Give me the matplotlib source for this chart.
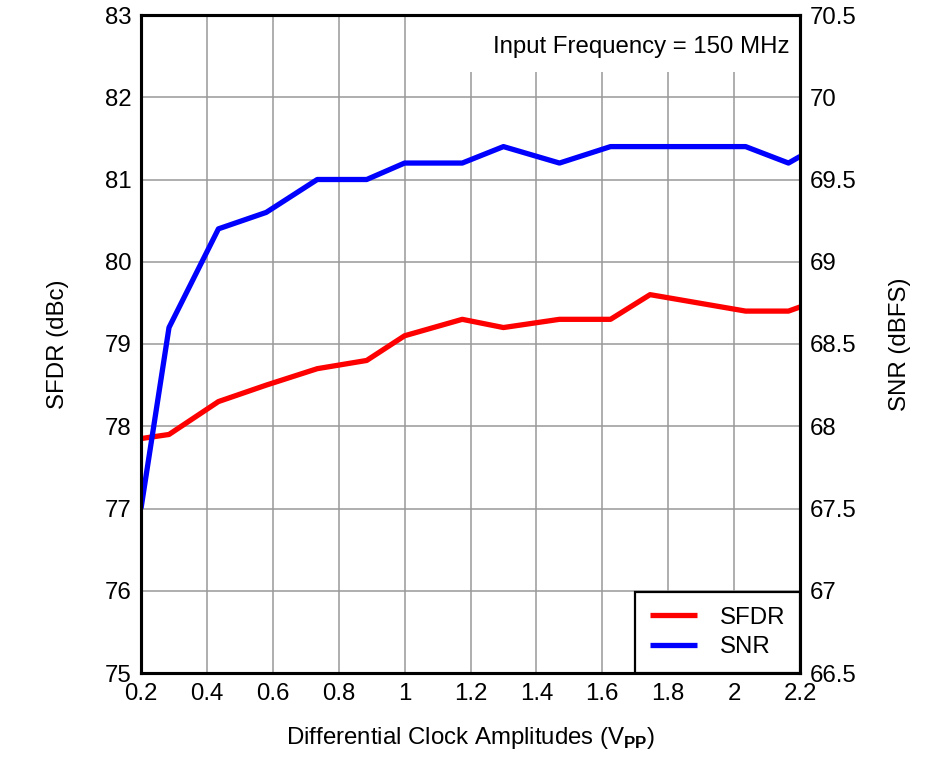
import matplotlib
matplotlib.use("Agg")
import matplotlib.pyplot as plt
from matplotlib.patches import Rectangle
from matplotlib.ticker import FuncFormatter

plt.rcParams['font.family'] = ['Liberation Sans', 'DejaVu Sans']
plt.rcParams['mathtext.fontset'] = 'custom'
plt.rcParams['mathtext.rm'] = 'Liberation Sans'
plt.rcParams['mathtext.bf'] = 'Liberation Sans:bold'

# Data
amplitude = [0.2, 0.285, 0.435, 0.58, 0.735, 0.885, 1.0, 1.175, 1.3, 1.47, 1.625, 1.745, 2.035, 2.165, 2.2]
sfdr = [77.85, 77.9, 78.3, 78.5, 78.7, 78.8, 79.1, 79.3, 79.2, 79.3, 79.3, 79.6, 79.4, 79.4, 79.45]
snr = [67.5, 68.6, 69.2, 69.3, 69.5, 69.5, 69.6, 69.6, 69.7, 69.6, 69.7, 69.7, 69.7, 69.6, 69.64]
x_ticks = [0.2, 0.4, 0.6, 0.8, 1.0, 1.2, 1.4, 1.6, 1.8, 2.0, 2.2]
left_ticks = [75, 76, 77, 78, 79, 80, 81, 82, 83]
right_ticks = [66.5, 67, 67.5, 68, 68.5, 69, 69.5, 70, 70.5]

fig = plt.figure(figsize=(9.39, 7.64), dpi=100)
ax = fig.add_axes([141/939, 1-673/764, 659/939, 658/764])
ax2 = ax.twinx()

fs = 17.3
fmt = FuncFormatter(lambda v, p: f"{v:g}")

ax.set_xlim(0.2, 2.2)
ax.set_ylim(75, 83)
ax2.set_ylim(66.5, 70.5)
ax.set_xticks(x_ticks)
ax.set_yticks(left_ticks)
ax2.set_yticks(right_ticks)
ax.xaxis.set_major_formatter(fmt)
ax.yaxis.set_major_formatter(fmt)
ax2.yaxis.set_major_formatter(fmt)
ax.tick_params(axis='both', length=0, labelsize=fs, pad=7)
ax2.tick_params(axis='y', length=0, labelsize=fs, pad=7)

ax.set_axisbelow(True)
ax.grid(True, color='#999999', linewidth=1.1)

# white annotation background covering grid
ax.add_patch(Rectangle((0.45, 1-57/658), 0.55, 57/658, transform=ax.transAxes,
                       facecolor='white', edgecolor='none', zorder=1))
ax.text(0.985, 0.968, 'Input Frequency = 150 MHz', transform=ax.transAxes,
        ha='right', va='top', fontsize=fs, zorder=3)

l1, = ax.plot(amplitude, sfdr, color='#ff0000', linewidth=3.8, zorder=2, label='SFDR',
              solid_capstyle='butt')
l2, = ax2.plot(amplitude, snr, color='#0000ff', linewidth=3.8, zorder=2, label='SNR',
               solid_capstyle='butt')

for a in (ax, ax2):
    for s in a.spines.values():
        s.set_linewidth(2.2)
        s.set_color('black')

ax.set_xlabel('Differential Clock Amplitudes (V$_{\\mathbf{PP}}$)', fontsize=fs)
ax.set_ylabel('SFDR (dBc)', fontsize=fs)
ax2.set_ylabel('SNR (dBFS)', fontsize=fs)
ax.xaxis.set_label_coords(0.5, -0.079)
ax.yaxis.set_label_coords(-0.11, 0.5)
ax2.yaxis.set_label_coords(1.135, 0.5)

leg = ax2.legend(handles=[l1, l2], loc='lower right', fontsize=fs, frameon=True,
                 fancybox=False, edgecolor='black', framealpha=1, borderaxespad=0,
                 borderpad=0.62, handlelength=1.95, handletextpad=0.95, labelspacing=0.3)
leg.get_frame().set_linewidth(1.6)

fig.savefig('out.png', dpi=100)
